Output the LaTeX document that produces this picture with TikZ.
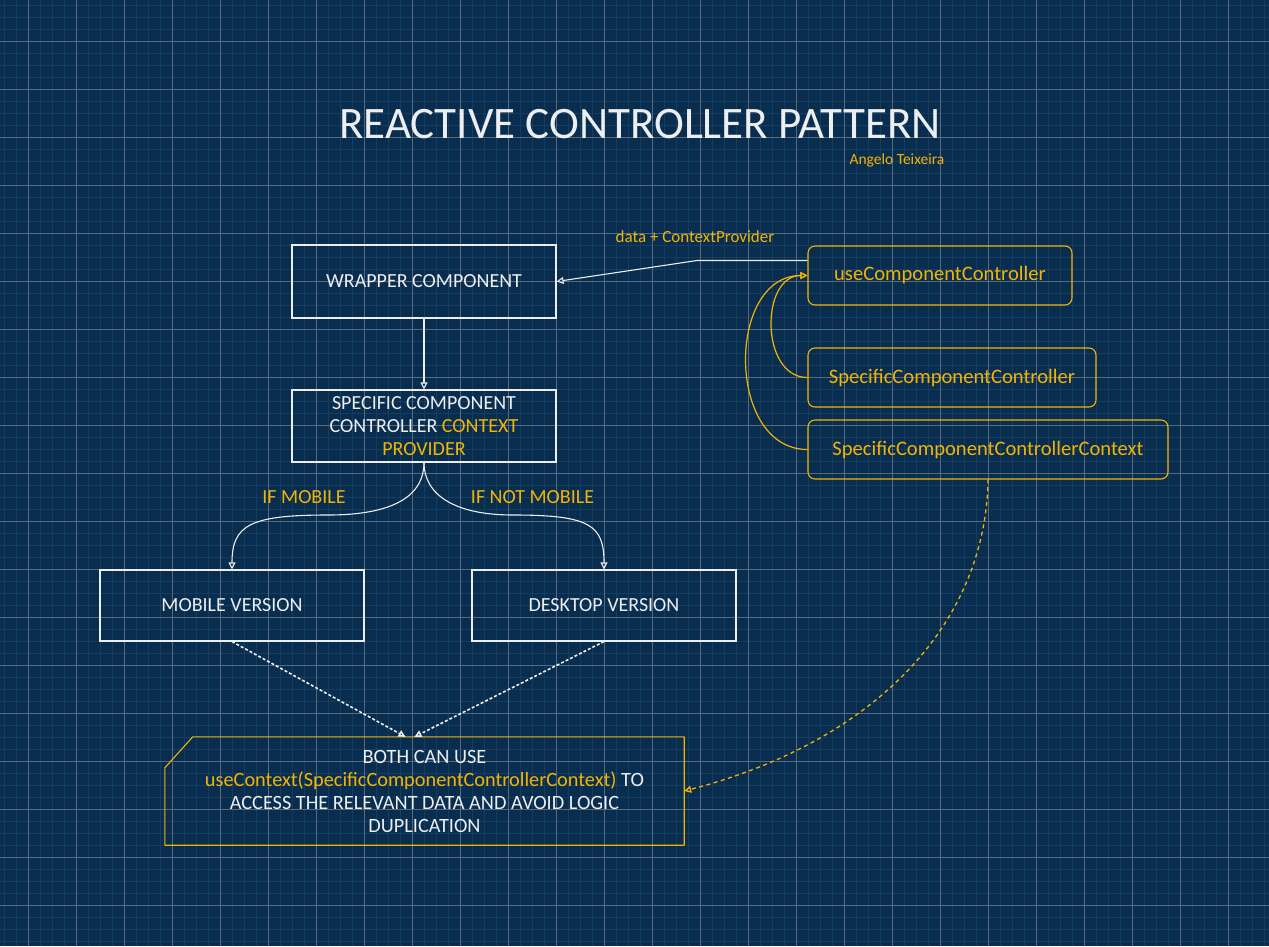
\documentclass[tikz,border=0pt]{standalone}
\usepackage{fontspec}
\setmainfont{Carlito}
\usetikzlibrary{arrows.meta}
\definecolor{bg}{RGB}{9,45,79}
\definecolor{minorgrid}{RGB}{22,60,94}
\definecolor{majorgrid}{RGB}{88,106,128}
\definecolor{ink}{RGB}{236,238,240}
\definecolor{gold}{RGB}{240,180,6}
\begin{document}
\begin{tikzpicture}[x=1pt,y=-1pt,
  whitebox/.style={draw=ink, line width=1.1pt, rectangle, minimum width=264pt, minimum height=72pt, text=ink, font=\fontsize{20}{23}\selectfont, align=center, inner sep=0pt},
  goldbox/.style={draw=gold, line width=1.1pt, rectangle, rounded corners=7pt, minimum height=59pt, text=gold, font=\fontsize{20.6}{23}\selectfont, inner sep=0pt},
  goldlabel/.style={text=gold, font=\fontsize{20}{23}\selectfont, inner sep=0pt},
  smalllabel/.style={text=gold, font=\fontsize{15.5}{18}\selectfont, inner sep=0pt},
  tip/.style={-{Triangle[open, length=7pt, width=7pt]}},
  wline/.style={draw=ink, line width=1.1pt, tip},
  gline/.style={draw=gold, line width=1.2pt, tip},
  wdash/.style={draw=ink, line width=1.6pt, dash pattern=on 3pt off 2pt, tip},
  gdash/.style={draw=gold, line width=1.3pt, dash pattern=on 4pt off 3.5pt, tip}]
\useasboundingbox (0,0) rectangle (1269,946);
\fill[bg] (0,0) rectangle (1269,946);
% grid
\foreach \x in {4.3,16.3,...,1269} { \draw[minorgrid, line width=1pt] (\x,0) -- (\x,946); }
\foreach \y in {5.3,17.3,...,946} { \draw[minorgrid, line width=1pt] (0,\y) -- (1269,\y); }
\foreach \x in {28.3,76.3,...,1269} { \draw[majorgrid, line width=0.9pt] (\x,0) -- (\x,946); }
\foreach \y in {41.3,89.3,...,946} { \draw[majorgrid, line width=0.9pt] (0,\y) -- (1269,\y); }

% title
\node[text=ink, font=\fontsize{45}{50}\selectfont, inner sep=0pt] (title) at (640,124) {REACTIVE CONTROLLER PATTERN};
\node[smalllabel] (author) at (897,160) {Angelo Teixeira};

% white boxes
\node[whitebox, minimum height=73pt] (wrap) at (424,281.5) {WRAPPER COMPONENT};
\node[whitebox] (spec) at (424,426) {SPECIFIC COMPONENT\\CONTROLLER \textcolor{gold}{CONTEXT}\\\textcolor{gold}{PROVIDER}};
\node[whitebox, minimum height=71pt] (mob) at (232,605.5) {MOBILE VERSION};
\node[whitebox, minimum height=71pt] (desk) at (604,605.5) {DESKTOP VERSION};

% gold boxes
\node[goldbox, minimum width=264pt] (ucc) at (940,275.5) {useComponentController};
\node[goldbox, minimum width=288pt] (scc) at (952,377.5) {SpecificComponentController};
\node[goldbox, minimum width=360pt] (ctx) at (988,449.5) {SpecificComponentControllerContext};

% bottom note
\node[minimum width=519pt, minimum height=108pt, inner sep=0pt, text=ink, align=center, font=\fontsize{20.3}{23}\selectfont] (note) at (424.5,791)
  {BOTH CAN USE\\\textcolor{gold}{useContext(SpecificComponentControllerContext)} TO\\ACCESS THE RELEVANT DATA AND AVOID LOGIC\\DUPLICATION};
\draw[gold, line width=1.1pt, line join=round] ([yshift=-31pt]note.north west) -- ([xshift=28pt]note.north west) -- (note.north east) -- (note.south east) -- (note.south west) -- cycle;

% labels
\node[smalllabel, font=\fontsize{17}{19}\selectfont] (datalbl) at (695,237) {data + ContextProvider};
\node[goldlabel] (ifmob) at (304,497) {IF MOBILE};
\node[goldlabel] (ifnot) at (532.5,497) {IF NOT MOBILE};

% connectors
\coordinate (bend) at (697,260.5);
\draw[wline] ([yshift=15pt]ucc.west) -- (bend) -- (wrap.east);
\draw[wline] (wrap.south) -- (spec.north);
\draw[wline] (spec.south) .. controls (424,495) and (395,515) .. (328,515) .. controls (250,515) and (232,525) .. (mob.north);
\draw[wline] (spec.south) .. controls (424,495) and (455,515) .. (513,515) .. controls (590,515) and (604,525) .. (desk.north);
\draw[wdash] (mob.south) -- ([xshift=-19pt]note.north);
\draw[wdash] (desk.south) -- ([xshift=-10pt]note.north);
\draw[gline] (scc.west) .. controls (760,377.5) and (760,275.5) .. (ucc.west);
\draw[gline] (ctx.west) .. controls (726,449.5) and (726,275.5) .. (ucc.west);
\draw[gdash] (ctx.south) .. controls (986,620) and (880,740) .. (note.east);
\end{tikzpicture}
\end{document}
